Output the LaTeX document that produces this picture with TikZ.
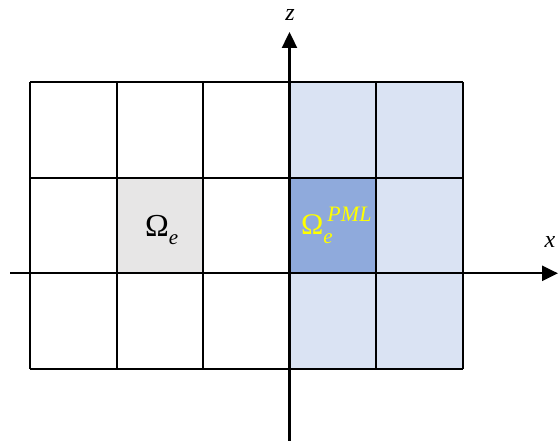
\documentclass[tikz,border=0pt]{standalone}
\usepackage{fontspec}
\setmainfont{Liberation Serif}
\usetikzlibrary{arrows.meta}
\definecolor{pmllight}{HTML}{DAE3F3}
\definecolor{pmldark}{HTML}{8FAADC}
\definecolor{elgray}{HTML}{E7E6E6}
\definecolor{lblyellow}{HTML}{FFFF00}
\tikzset{
  gridline/.style={draw=black, line width=1.8pt},
  axisline/.style={draw=black, line width=2.4pt, -{Triangle[length=16pt,width=15pt]}},
  axislabel/.style={font=\fontsize{24}{24}\selectfont\itshape, inner sep=0pt}
}
\begin{document}
\begin{tikzpicture}[x=1pt,y=-1pt]
\useasboundingbox (0,0) rectangle (558,441);
% columns and rows
\def\cA{30}\def\cB{116.6}\def\cC{203.2}\def\cD{289.5}\def\cE{376.2}\def\cF{463}
\def\rA{82}\def\rB{177.7}\def\rC{273.3}\def\rD{369}
% fills
\fill[pmllight] (\cD,\rA) rectangle (\cF,\rD);
\fill[elgray] (\cB,\rB) rectangle (\cC,\rC);
\fill[pmldark] (\cD,\rB) rectangle (\cE,\rC);
% grid
\foreach \x in {\cA,\cB,\cC,\cD,\cE,\cF} \draw[gridline] (\x,\rA) -- (\x,\rD);
\foreach \y in {\rA,\rB,\rC,\rD} \draw[gridline] (\cA,\y) -- (\cF,\y);
% axes
\coordinate (xs) at (10,\rC);
\coordinate (xe) at (558,\rC);
\coordinate (zs) at (\cD,441);
\coordinate (ze) at (\cD,32);
\draw[axisline] (xs) -- (xe);
\draw[axisline] (zs) -- (ze);
\node[axislabel] (xlab) at (550,242) {x};
\node[axislabel] (zlab) at (290,15) {z};
% labels
\node[inner sep=0pt, anchor=base west] (omegae) at (145,237)
  {\fontsize{32}{32}\selectfont Ω\fontsize{21}{21}\selectfont\raisebox{-8pt}{\itshape e}};
\node[inner sep=0pt, anchor=base west, text=lblyellow] (omegapml) at (301,235)
  {\fontsize{30}{30}\selectfont Ω\fontsize{21}{21}\selectfont\rlap{\raisebox{-9pt}{\itshape e}}\hspace{4pt}\fontsize{22}{22}\selectfont\raisebox{13pt}{\itshape PML}};
\end{tikzpicture}
\end{document}
